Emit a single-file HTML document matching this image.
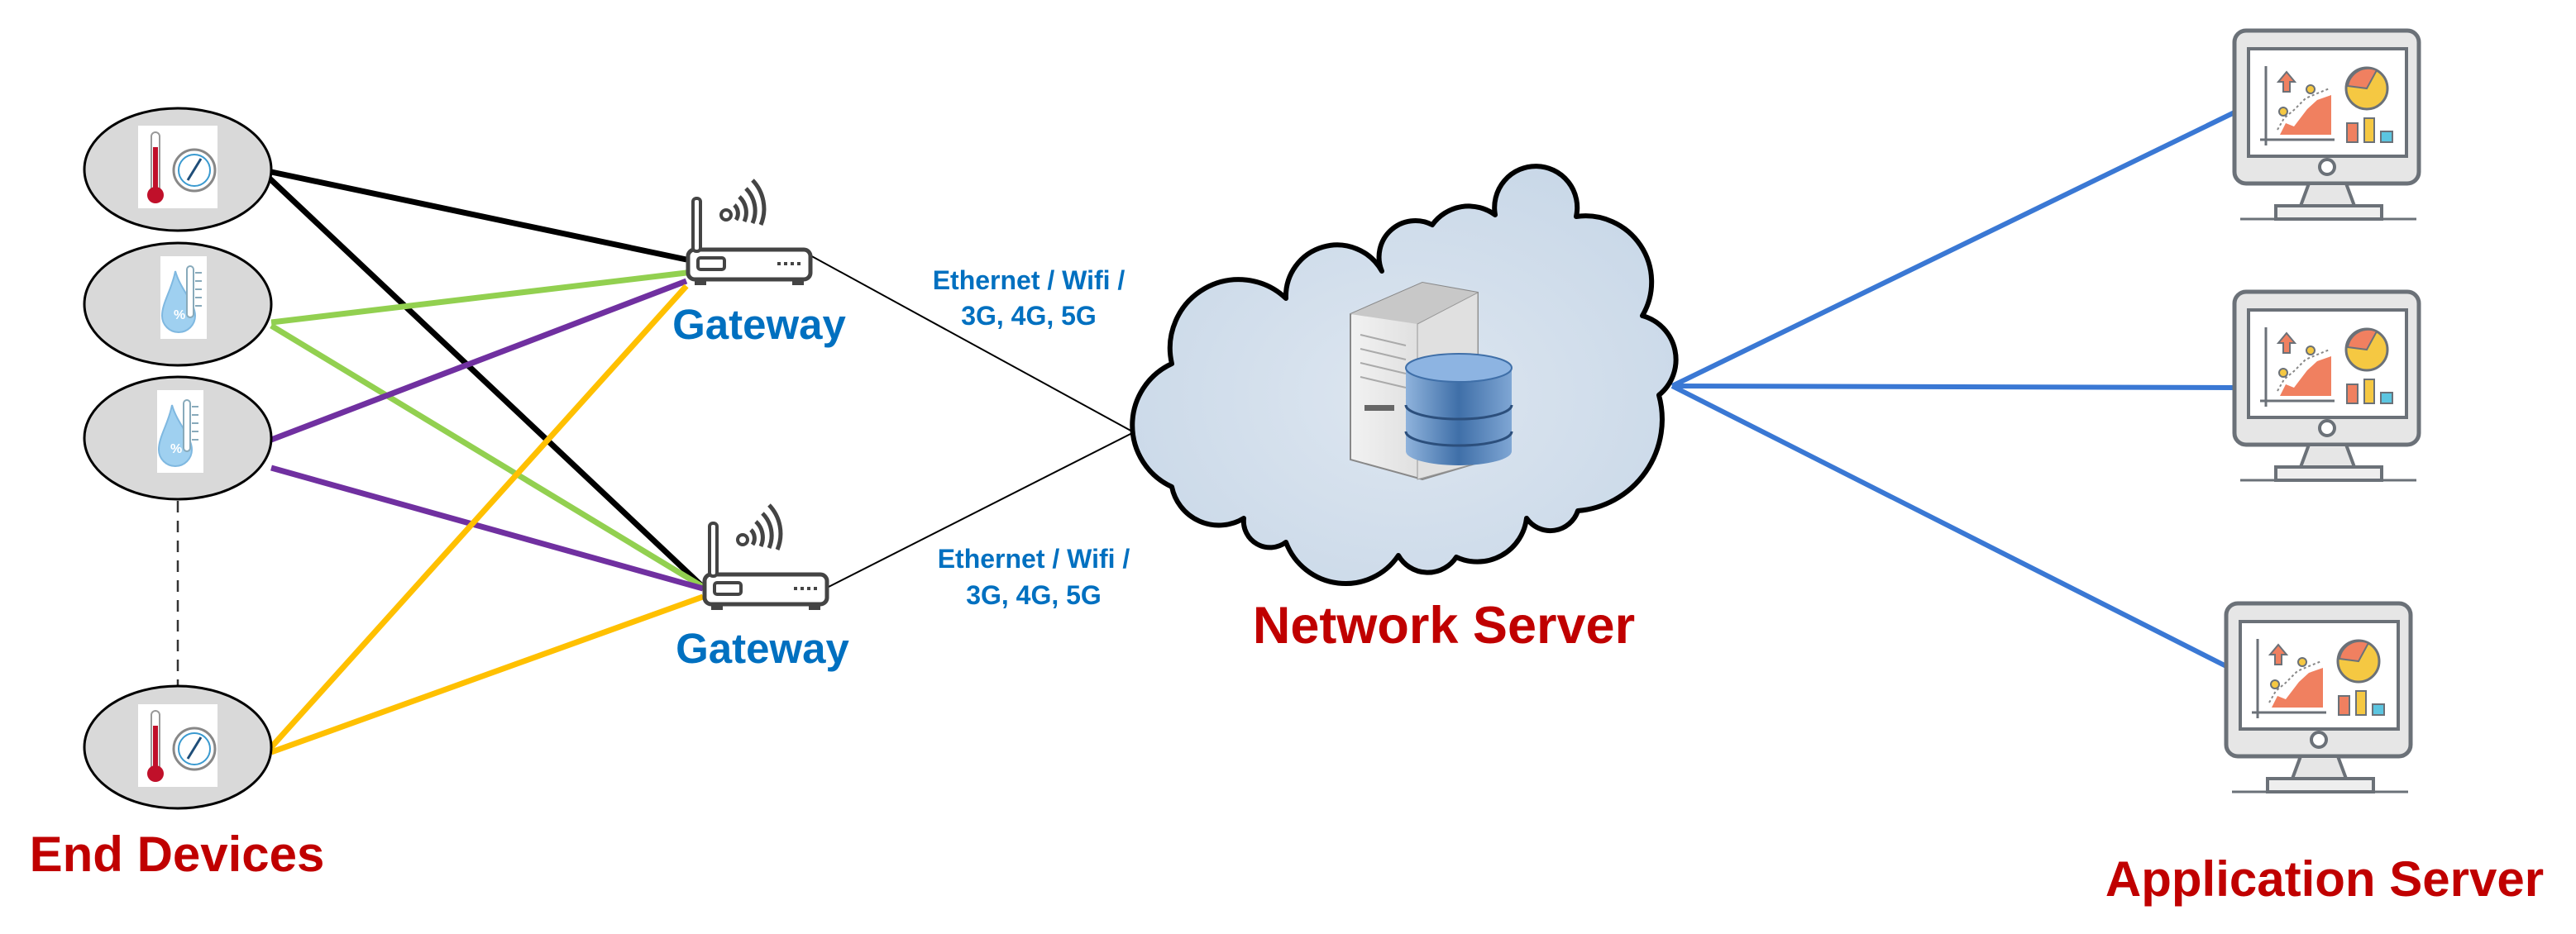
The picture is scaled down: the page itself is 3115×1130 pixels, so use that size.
<!DOCTYPE html>
<html><head><meta charset="utf-8"><style>
html,body{margin:0;padding:0;background:#fff;}
svg{display:block;}
text{font-family:"Liberation Sans",Arial,sans-serif;font-weight:bold;}
</style></head><body>
<svg width="3115" height="1130" viewBox="0 0 3115 1130" xmlns="http://www.w3.org/2000/svg">
<defs>
<radialGradient id="cg" cx="50%" cy="55%" r="60%">
<stop offset="0" stop-color="#dde6f0"/><stop offset="1" stop-color="#c9d8e8"/></radialGradient>
<linearGradient id="db" x1="0" x2="1"><stop offset="0" stop-color="#8fb3dc"/><stop offset="0.5" stop-color="#3f6fa8"/><stop offset="1" stop-color="#7fa6d4"/></linearGradient>
<linearGradient id="tw" x1="0" x2="1"><stop offset="0" stop-color="#f2f2f2"/><stop offset="1" stop-color="#d0d0d0"/></linearGradient>
<g id="mon">
<rect x="0" y="0" width="223" height="185" rx="14" fill="#e6e6e6" stroke="#6b7178" stroke-width="5"/>
<rect x="17" y="22" width="191" height="130" fill="#fff" stroke="#6b7178" stroke-width="4"/>
<circle cx="112" cy="165" r="9" fill="#fff" stroke="#6b7178" stroke-width="4"/>
<path d="M90 185 L80 212 L145 212 L135 185 Z" fill="#e6e6e6" stroke="#6b7178" stroke-width="4"/>
<rect x="50" y="212" width="128" height="16" fill="#eee" stroke="#6b7178" stroke-width="4"/>
<line x1="7" y1="228" x2="220" y2="228" stroke="#6b7178" stroke-width="3"/>
<line x1="38" y1="43" x2="38" y2="139" stroke="#6b7178" stroke-width="3"/>
<line x1="31" y1="132" x2="121" y2="132" stroke="#6b7178" stroke-width="3"/>
<path d="M55 126 L62 112 L72 116 L88 95 L100 84 L117 78 L117 126 Z" fill="#f08060"/>
<path d="M52 120 L60 106 L72 96 L86 82 L100 76 L115 70" fill="none" stroke="#888" stroke-width="2" stroke-dasharray="3 3"/>
<circle cx="59" cy="98" r="5" fill="#f5c842" stroke="#6b7178" stroke-width="2"/>
<circle cx="92" cy="71" r="5" fill="#f5c842" stroke="#6b7178" stroke-width="2"/>
<path d="M63 50 L53 62 L59 62 L59 74 L67 74 L67 62 L73 62 Z" fill="#f08060" stroke="#6b7178" stroke-width="2"/>
<circle cx="160" cy="70" r="25" fill="#f5c842" stroke="#6b7178" stroke-width="3"/>
<path d="M160 70 L137 67 A25 25 0 0 1 172 48 Z" fill="#f08060" stroke="#6b7178" stroke-width="2"/>
<rect x="136" y="112" width="13" height="23" fill="#f08060" stroke="#6b7178" stroke-width="2"/>
<rect x="157" y="106" width="12" height="29" fill="#f5c842" stroke="#6b7178" stroke-width="2"/>
<rect x="177" y="122" width="14" height="13" fill="#5bc5e0" stroke="#6b7178" stroke-width="2"/>
</g>
<g id="therm">
<rect x="-48" y="-48" width="96" height="100" fill="#fff"/>
<rect x="-32" y="-40" width="10" height="74" rx="5" fill="#fff" stroke="#999" stroke-width="2"/>
<rect x="-30" y="-22" width="6" height="56" fill="#c0102a"/>
<circle cx="-27" cy="36" r="10" fill="#c0102a"/>
<circle cx="20" cy="6" r="25" fill="#fff" stroke="#888" stroke-width="3"/>
<circle cx="20" cy="6" r="19" fill="#fff" stroke="#3a9ad0" stroke-width="2"/>
<line x1="12" y1="18" x2="28" y2="-8" stroke="#1f4e79" stroke-width="3"/>
</g>
<g id="drop">
<rect x="-28" y="-50" width="56" height="100" fill="#fff"/>
<path d="M-10 -32 C-4 -10 14 6 14 22 A20 20 0 0 1 -26 22 C-26 6 -14 -10 -10 -32 Z" fill="#9fd0f0" stroke="#7fb8e0" stroke-width="2"/>
<rect x="4" y="-38" width="8" height="62" rx="4" fill="#fff" stroke="#8ab" stroke-width="2"/>
<path d="M14 -30 h8 M14 -20 h8 M14 -10 h8 M14 0 h8 M14 10 h8" stroke="#8ab" stroke-width="2"/>
<text x="-12" y="26" font-size="16" fill="#fff">%</text>
</g>
<g id="router">
<rect x="0" y="0" width="148" height="36" rx="8" fill="#fff" stroke="#444" stroke-width="5"/>
<rect x="12" y="10" width="32" height="14" rx="3" fill="#fff" stroke="#444" stroke-width="4"/>
<path d="M108 17 h4 M116 17 h4 M124 17 h4 M132 17 h4" stroke="#444" stroke-width="4"/>
<rect x="6" y="-62" width="9" height="64" rx="4" fill="#fff" stroke="#444" stroke-width="4"/>
<rect x="8" y="36" width="14" height="7" fill="#444"/><rect x="126" y="36" width="14" height="7" fill="#444"/>
<circle cx="46" cy="-42" r="6" fill="#fff" stroke="#444" stroke-width="4"/>
<path d="M56 -54 A14 14 0 0 1 58 -36 M62 -64 A26 26 0 0 1 68 -34 M70 -74 A38 38 0 0 1 78 -32 M78 -84 A50 50 0 0 1 88 -30" fill="none" stroke="#444" stroke-width="5"/>
</g>
</defs>

<!-- connections -->
<g stroke-width="7" fill="none">
<line x1="328" y1="208" x2="830" y2="314" stroke="#000"/>
<line x1="324" y1="214" x2="850" y2="710" stroke="#000"/>
<line x1="328" y1="390" x2="830" y2="330" stroke="#92d050"/>
<line x1="328" y1="394" x2="850" y2="710" stroke="#92d050"/>
<line x1="328" y1="532" x2="830" y2="340" stroke="#7030a0"/>
<line x1="328" y1="566" x2="850" y2="712" stroke="#7030a0"/>
<line x1="328" y1="904" x2="830" y2="346" stroke="#ffc000"/>
<line x1="328" y1="910" x2="850" y2="722" stroke="#ffc000"/>
</g>
<line x1="215" y1="606" x2="215" y2="845" stroke="#333" stroke-width="2.5" stroke-dasharray="14 10"/>
<line x1="978" y1="308" x2="1371" y2="523" stroke="#000" stroke-width="2"/>
<line x1="1000" y1="711" x2="1371" y2="523" stroke="#000" stroke-width="2"/>
<g stroke="#3a78d4" stroke-width="6">
<line x1="2022" y1="467" x2="2704" y2="135"/>
<line x1="2022" y1="467" x2="2704" y2="469"/>
<line x1="2022" y1="467" x2="2694" y2="807"/>
</g>

<!-- end devices -->
<g fill="#d9d9d9" stroke="#000" stroke-width="3">
<ellipse cx="215" cy="205" rx="113" ry="74"/>
<ellipse cx="215" cy="368" rx="113" ry="74"/>
<ellipse cx="215" cy="530" rx="113" ry="74"/>
<ellipse cx="215" cy="904" rx="113" ry="74"/>
</g>
<use href="#therm" x="215" y="200"/>
<use href="#drop" x="222" y="360"/>
<use href="#drop" x="218" y="522"/>
<use href="#therm" x="215" y="900"/>

<!-- gateways -->
<use href="#router" x="832" y="302"/>
<use href="#router" x="852" y="695"/>
<text x="918" y="410" font-size="51" fill="#0070c0" text-anchor="middle">Gateway</text>
<text x="922" y="802" font-size="51" fill="#0070c0" text-anchor="middle">Gateway</text>
<g font-size="32" fill="#0070c0" text-anchor="middle">
<text x="1244" y="350">Ethernet / Wifi /</text>
<text x="1244" y="393">3G, 4G, 5G</text>
<text x="1250" y="687">Ethernet / Wifi /</text>
<text x="1250" y="731">3G, 4G, 5G</text>
</g>

<!-- cloud -->
<path d="M1417 589 A82 82 0 0 1 1417 440 A83 83 0 0 1 1555 361 A62 62 0 0 1 1671 328 A44 44 0 0 1 1732 272 A54 54 0 0 1 1808 260 A50 50 0 1 1 1906 262 A80 80 0 0 1 1986 382 A55 55 0 0 1 2006 478 A111 111 0 0 1 1908 618 A35 35 0 0 1 1846 627 A60 60 0 0 1 1761 674 A41 41 0 0 1 1691 672 A77 77 0 0 1 1555 656 A32 32 0 0 1 1504 627 A58 58 0 0 1 1417 589 Z" fill="url(#cg)" stroke="#000" stroke-width="6" stroke-linejoin="round"/>
<!-- server -->
<path d="M1633 380 L1720 342 L1787 354 L1787 560 L1720 580 L1633 556 Z" fill="url(#tw)" stroke="#888" stroke-width="2"/>
<path d="M1633 380 L1720 342 L1787 354 L1714 392 Z" fill="#c8c8c8"/>
<path d="M1714 392 L1787 354 L1787 560 L1714 580 Z" fill="#e0e0e0" stroke="#999" stroke-width="1"/>
<g stroke="#aaa" stroke-width="2"><line x1="1645" y1="405" x2="1700" y2="418"/><line x1="1645" y1="422" x2="1700" y2="435"/><line x1="1645" y1="439" x2="1700" y2="452"/><line x1="1645" y1="456" x2="1700" y2="469"/></g>
<rect x="1650" y="490" width="36" height="7" fill="#666"/>
<path d="M1700 445 L1700 546 A64 17 0 0 0 1828 546 L1828 445 Z" fill="url(#db)"/>
<ellipse cx="1764" cy="445" rx="64" ry="17" fill="#8db4e2" stroke="#3f6fa8" stroke-width="2"/>
<path d="M1700 490 A64 17 0 0 0 1828 490 M1700 522 A64 17 0 0 0 1828 522" fill="none" stroke="#2c4f7c" stroke-width="3"/>
<text x="1746" y="778" font-size="63" fill="#c00000" text-anchor="middle">Network Server</text>

<!-- monitors -->
<use href="#mon" x="2702" y="37"/>
<use href="#mon" x="2702" y="353"/>
<use href="#mon" x="2692" y="730"/>

<text x="214" y="1054" font-size="60" fill="#c00000" text-anchor="middle">End Devices</text>
<text x="2811" y="1084" font-size="60" fill="#c00000" text-anchor="middle">Application Server</text>
</svg>
</body></html>
